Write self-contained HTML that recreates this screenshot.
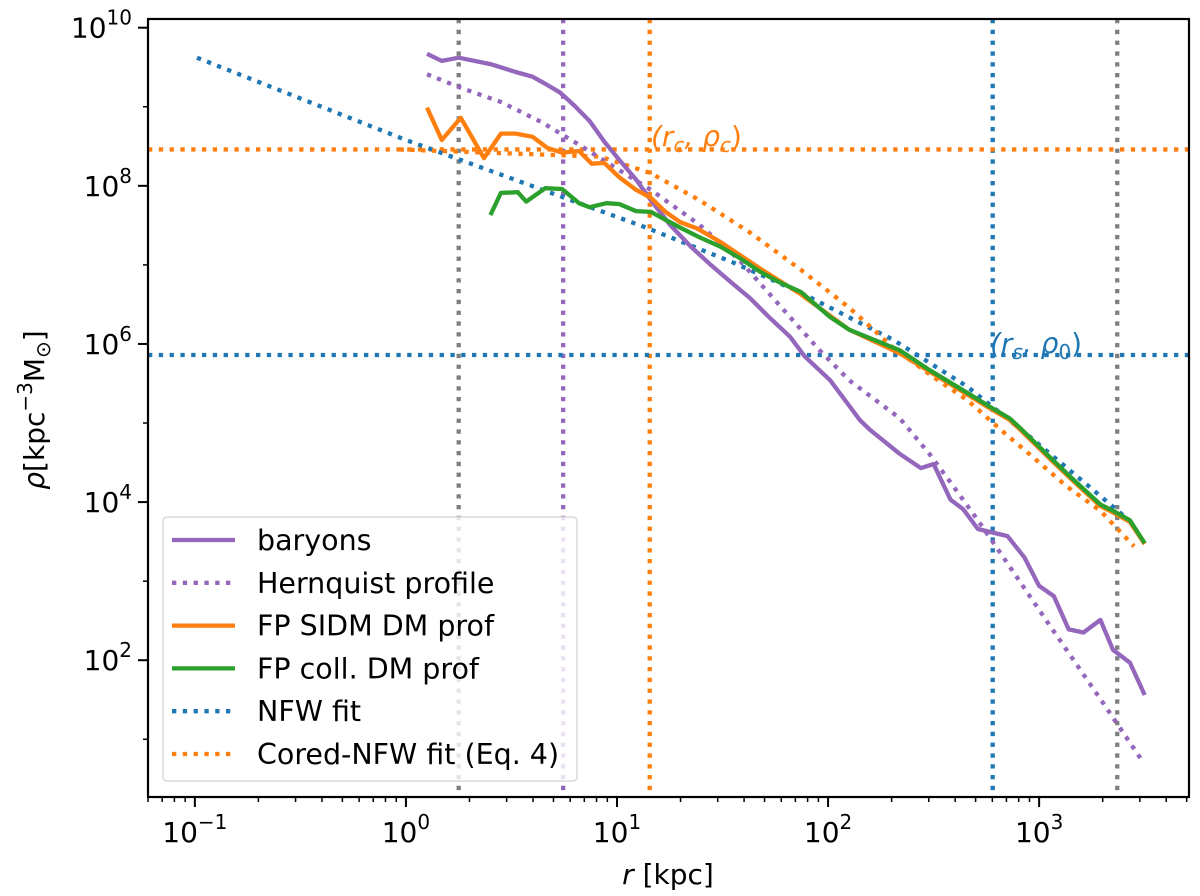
<!DOCTYPE html>
<html><head><meta charset="utf-8">
<style>
html,body{margin:0;padding:0;background:#fff;}
svg{display:block;font-family:"DejaVu Sans","Liberation Sans",sans-serif;}
</style></head>
<body>
<svg id="chart" width="1200" height="896" viewBox="0 0 1200 896">
<g id="plot"></g>
</svg>
<script>
// data (log10 r [kpc], log10 rho)
const baryonsLogR = [0.10,0.17,0.25,0.40,0.52,0.60,0.66,0.73,0.80,0.87,0.94,1.01,1.09,1.16,1.25,1.35,1.44,1.54,1.63,1.72,1.82,1.89,2.01,2.08,2.15,2.20,2.34,2.44,2.50,2.58,2.64,2.71,2.85,2.93,3.00,3.07,3.14,3.21,3.29,3.35,3.43,3.50];
const baryonsLogRho = [9.67,9.58,9.62,9.54,9.44,9.38,9.29,9.18,9.01,8.82,8.56,8.33,8.08,7.82,7.51,7.23,7.01,6.78,6.58,6.34,6.09,5.84,5.54,5.29,5.04,4.91,4.61,4.43,4.48,4.03,3.91,3.66,3.57,3.30,2.94,2.81,2.39,2.35,2.51,2.13,1.97,1.56];
const hernLogR = [0.10,0.26,0.45,0.64,0.82,1.01,1.16,1.39,1.58,1.77,1.96,2.10,2.34,2.48,2.58,2.71,2.80,3.05,3.30,3.49];
const hernLogRho = [9.41,9.24,9.06,8.81,8.52,8.20,7.95,7.51,7.06,6.49,5.92,5.54,5.06,4.61,4.25,3.77,3.42,2.44,1.47,0.72];
const sidmLogR = [0.10,0.17,0.26,0.37,0.45,0.52,0.60,0.67,0.74,0.82,0.88,0.94,1.01,1.09,1.16,1.23,1.30,1.38,1.49,1.68,1.87,2.10,2.34,2.48,2.63,2.77,2.86,2.92,3.05,3.16,3.29,3.35,3.43,3.50];
const sidmLogRho = [8.99,8.58,8.86,8.35,8.66,8.66,8.62,8.48,8.42,8.44,8.28,8.29,8.11,7.95,7.85,7.67,7.54,7.46,7.29,6.95,6.63,6.18,5.88,5.65,5.41,5.18,5.04,4.89,4.55,4.27,3.95,3.87,3.75,3.47];
const collLogR = [0.40,0.45,0.53,0.57,0.66,0.74,0.82,0.87,0.95,1.01,1.09,1.16,1.23,1.30,1.39,1.49,1.58,1.68,1.77,1.87,2.01,2.10,2.34,2.48,2.63,2.77,2.86,2.92,3.05,3.16,3.29,3.35,3.43,3.50];
const collLogRho = [7.63,7.91,7.92,7.80,7.97,7.96,7.78,7.73,7.78,7.77,7.68,7.67,7.57,7.47,7.35,7.23,7.09,6.91,6.78,6.66,6.34,6.18,5.92,5.67,5.43,5.20,5.06,4.91,4.57,4.29,3.97,3.89,3.77,3.48];
const nfwLogR = [-0.99,0,1.14,1.55,1.87,2.31,2.66,2.94,3.24,3.43];
const nfwLogRho = [9.62,8.58,7.47,7.03,6.65,6.05,5.46,4.86,4.19,3.76];
const coredLogR = [-0.03,0.92,1.16,1.39,1.63,1.87,2.10,2.31,2.50,2.66,2.82,2.97,3.13,3.29,3.45];
const coredLogRho = [8.46,8.37,8.16,7.82,7.41,6.94,6.46,5.95,5.58,5.29,4.91,4.57,4.20,3.89,3.44];
const vLinesLogR = [0.25,0.745,1.155,2.78,3.37];
const vLineColors = ['#7f7f7f','#9467bd','#ff7f0e','#1f77b4','#7f7f7f'];
const hLinesLogRho = [8.46,5.86];
const hLineColors = ['#ff7f0e','#1f77b4'];
const xTickExps = [-1,0,1,2,3];
const yTickExps = [2,4,6,8,10];

const L=148,R=1189,T=19,B=797;
const xMin=-1.222, xMax=3.71;
const yMin=0.27, yMax=10.11;
function X(lr){return L+(lr-xMin)/(xMax-xMin)*(R-L);}
function Y(lv){return B-(lv-yMin)/(yMax-yMin)*(B-T);}
const NS='http://www.w3.org/2000/svg';
const svg=document.getElementById('chart');
const plot=document.getElementById('plot');
function mk(tag,attrs,parent){const e=document.createElementNS(NS,tag);for(const k in attrs)e.setAttribute(k,attrs[k]);(parent||svg).appendChild(e);return e;}
const SW=4.3, DASH='4.3 6.5';

const defs=mk('defs',{});
const cp=mk('clipPath',{id:'clip'},defs);
mk('rect',{x:L,y:T,width:R-L,height:B-T},cp);
plot.setAttribute('clip-path','url(#clip)');

vLinesLogR.forEach((v,i)=>{
  const l=mk('line',{x1:X(v),x2:X(v),y1:T,y2:B,stroke:vLineColors[i],'stroke-width':SW,'stroke-dasharray':DASH},plot);
  
  
});
hLinesLogRho.forEach((v,i)=>{
  const l=mk('line',{x1:L,x2:R,y1:Y(v),y2:Y(v),stroke:hLineColors[i],'stroke-width':SW,'stroke-dasharray':DASH},plot);
  
  
});

function series(xs,ys,color,dotted,name){
  const d=xs.map((x,i)=>(i?'L':'M')+X(x).toFixed(1)+' '+Y(ys[i]).toFixed(1)).join(' ');
  const a={d:d,fill:'none',stroke:color,'stroke-width':SW,'stroke-linejoin':'round'};
  if(dotted)a['stroke-dasharray']=DASH;
  const p=mk('path',a,plot);
  
  
}
series(nfwLogR,nfwLogRho,'#1f77b4',true,'nfw-fit-line');
series(coredLogR,coredLogRho,'#ff7f0e',true,'cored-nfw-fit-line');
series(hernLogR,hernLogRho,'#9467bd',true,'hernquist-profile-line');
series(baryonsLogR,baryonsLogRho,'#9467bd',false,'baryons-line');
series(sidmLogR,sidmLogRho,'#ff7f0e',false,'sidm-dm-profile-line');
series(collLogR,collLogRho,'#2ca02c',false,'coll-dm-profile-line');

let t=mk('text',{x:651,y:146,'font-size':28,fill:'#ff7f0e','font-style':'italic'});


t.innerHTML='(r<tspan font-size="20" dy="6">c</tspan><tspan dy="-6">, ρ</tspan><tspan font-size="20" dy="6">c</tspan><tspan dy="-6" font-style="normal">)</tspan>';
t=mk('text',{x:990,y:353,'font-size':28,fill:'#1f77b4','font-style':'italic'});


t.innerHTML='(r<tspan font-size="20" dy="6">s</tspan><tspan dy="-6">, ρ</tspan><tspan font-size="20" dy="6" font-style="normal">0</tspan><tspan dy="-6" font-style="normal">)</tspan>';

const fr=mk('rect',{x:L,y:T,width:R-L,height:B-T,fill:'none',stroke:'#000','stroke-width':2.2});



for(let e=-2;e<=3;e++){
  for(let m=1;m<10;m++){
    const lv=e+Math.log10(m);
    if(lv<xMin||lv>xMax)continue;
    const x=X(lv);
    mk('line',{x1:x,x2:x,y1:B,y2:B+(m===1?10:5),stroke:'#000','stroke-width':m===1?2:1.5});
  }
}
xTickExps.forEach(e=>{
  const tx=mk('text',{x:X(e),y:842,'font-size':28,'text-anchor':'middle'});
  
  
  tx.innerHTML='10<tspan font-size="20" dy="-13">'+(e<0?'−'+(-e):e)+'</tspan>';
});
for(let e=0;e<=10;e++){
  const lv=e; if(lv<yMin||lv>yMax)continue;
  const y=Y(lv);
  mk('line',{x1:L-(e%2===0?10:5),x2:L,y1:y,y2:y,stroke:'#000','stroke-width':e%2===0?2:1.5});
}
yTickExps.forEach(e=>{
  const ty=mk('text',{x:132,y:Y(e)+10,'font-size':28,'text-anchor':'end'});
  
  
  ty.innerHTML='10<tspan font-size="20" dy="-13">'+e+'</tspan>';
});

t=mk('text',{x:668,y:884,'font-size':28,'text-anchor':'middle'});


t.innerHTML='<tspan font-style="italic">r</tspan> [kpc]';
t=mk('text',{x:0,y:0,'font-size':28,'text-anchor':'middle',transform:'translate(44,410) rotate(-90)'});


t.innerHTML='<tspan font-style="italic">ρ</tspan>[kpc<tspan font-size="20" dy="-12">−3</tspan><tspan dy="12">M</tspan><tspan font-size="20" dy="6">⊙</tspan><tspan dy="-6">]</tspan>';

const lg=mk('g',{});


mk('rect',{x:163,y:517,width:414,height:264,rx:4,fill:'rgba(255,255,255,0.8)',stroke:'#d9d9d9','stroke-width':1.5},lg);
const legLabels=['baryons','Hernquist profile','FP SIDM DM prof','FP coll. DM prof','NFW fit','Cored-NFW fit (Eq. 4)'];
const legColors=['#9467bd','#9467bd','#ff7f0e','#2ca02c','#1f77b4','#ff7f0e'];
const legDotted=[false,true,false,false,true,true];
legLabels.forEach((s,i)=>{
  const y=540+i*42.8;
  const g=mk('g',{},lg);
  
  
  const a={x1:172,x2:235,y1:y,y2:y,stroke:legColors[i],'stroke-width':SW};
  if(legDotted[i])a['stroke-dasharray']=DASH;
  mk('line',a,g);
  const tt=mk('text',{x:257,y:y+10,'font-size':28.5},g);
  tt.textContent=s;
});
</script>
</body></html>
